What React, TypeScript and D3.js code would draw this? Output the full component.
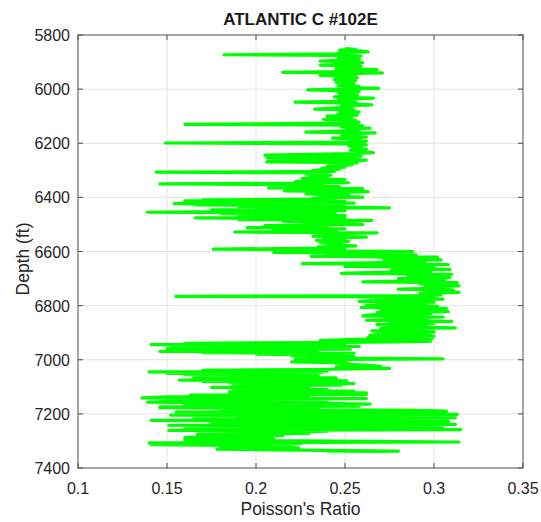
import React, { useEffect, useRef } from 'react';
import * as d3 from 'd3';

const logUpper: [number, number][] = [
  [5850, 0.25], [5853, 0.256], [5856, 0.247], [5859, 0.258], [5862, 0.263], [5864, 0.25],
  [5867, 0.246], [5870, 0.252], [5873, 0.182], [5875, 0.248], [5878, 0.259], [5881, 0.247],
  [5884, 0.255], [5887, 0.246], [5890, 0.258], [5893, 0.249], [5896, 0.236], [5899, 0.255],
  [5902, 0.26], [5905, 0.244], [5908, 0.252], [5911, 0.236], [5914, 0.259], [5917, 0.247],
  [5920, 0.254], [5924, 0.245], [5928, 0.268], [5931, 0.25], [5935, 0.244], [5938, 0.215],
  [5940, 0.271], [5943, 0.252], [5946, 0.246], [5949, 0.236], [5952, 0.256], [5955, 0.245],
  [5958, 0.257], [5962, 0.248], [5965, 0.244], [5968, 0.256], [5971, 0.249], [5975, 0.245],
  [5978, 0.255], [5982, 0.25], [5986, 0.246], [5990, 0.258], [5994, 0.252], [5997, 0.269],
  [6000, 0.247], [6003, 0.229], [6006, 0.25], [6009, 0.258], [6012, 0.246], [6016, 0.254],
  [6019, 0.247], [6022, 0.257], [6025, 0.25], [6029, 0.244], [6033, 0.266], [6036, 0.252],
  [6040, 0.246], [6044, 0.256], [6048, 0.222], [6051, 0.25], [6055, 0.258], [6058, 0.265],
  [6062, 0.248], [6066, 0.254], [6070, 0.244], [6074, 0.233], [6077, 0.255], [6081, 0.247],
  [6084, 0.258], [6088, 0.25],
];

const logShale: [number, number][] = [
  [6092, 0.246], [6096, 0.257], [6100, 0.24], [6104, 0.254], [6108, 0.247], [6112, 0.238],
  [6115, 0.256], [6118, 0.249], [6122, 0.258], [6126, 0.247], [6130, 0.16], [6133, 0.252],
  [6136, 0.26], [6140, 0.248], [6144, 0.264], [6147, 0.251], [6151, 0.258], [6155, 0.246],
  [6159, 0.228], [6162, 0.267], [6165, 0.253], [6169, 0.259], [6173, 0.248], [6177, 0.262],
  [6181, 0.243], [6184, 0.258], [6188, 0.252], [6192, 0.262], [6196, 0.255], [6199, 0.149],
  [6202, 0.256], [6206, 0.262], [6210, 0.252], [6214, 0.259], [6218, 0.254], [6222, 0.262],
  [6226, 0.253], [6230, 0.258], [6235, 0.266], [6238, 0.254], [6244, 0.205], [6247, 0.259],
  [6252, 0.206], [6255, 0.258], [6259, 0.207], [6262, 0.262], [6266, 0.25], [6269, 0.206],
  [6272, 0.257], [6276, 0.248], [6280, 0.254], [6284, 0.24], [6288, 0.25], [6292, 0.237],
  [6296, 0.247],
];

const logMiddle: [number, number][] = [
  [6300, 0.232], [6304, 0.244], [6307, 0.144], [6310, 0.236], [6314, 0.228], [6318, 0.242],
  [6322, 0.23], [6326, 0.24], [6330, 0.226], [6334, 0.25], [6338, 0.235], [6342, 0.222],
  [6346, 0.252], [6350, 0.146], [6353, 0.238], [6357, 0.23], [6361, 0.247], [6365, 0.207],
  [6368, 0.26], [6372, 0.236], [6376, 0.216], [6379, 0.263], [6383, 0.24], [6387, 0.228],
  [6391, 0.252], [6395, 0.236], [6399, 0.26], [6403, 0.232], [6406, 0.245], [6409, 0.17],
  [6411, 0.24], [6413, 0.16], [6416, 0.25], [6418, 0.175], [6421, 0.255], [6423, 0.154],
  [6426, 0.24], [6428, 0.165], [6431, 0.25], [6433, 0.19], [6436, 0.248], [6439, 0.275],
  [6441, 0.2], [6444, 0.245], [6446, 0.175], [6449, 0.25], [6452, 0.19], [6455, 0.139],
  [6457, 0.235], [6460, 0.18], [6462, 0.245], [6465, 0.19], [6467, 0.25], [6470, 0.2],
  [6473, 0.25], [6476, 0.166], [6479, 0.24], [6482, 0.19], [6485, 0.265], [6488, 0.215],
  [6492, 0.23], [6496, 0.245], [6500, 0.26], [6504, 0.205], [6508, 0.24], [6512, 0.195],
  [6516, 0.25], [6520, 0.21], [6524, 0.245], [6528, 0.188], [6531, 0.268], [6535, 0.236],
  [6539, 0.248], [6543, 0.232], [6547, 0.262], [6551, 0.238], [6555, 0.25], [6559, 0.234],
  [6563, 0.252], [6567, 0.236], [6571, 0.248], [6575, 0.24], [6579, 0.256], [6583, 0.235],
  [6587, 0.25], [6591, 0.176], [6594, 0.245], [6598, 0.238],
];

const logBulge: [number, number][] = [
  [6600, 0.288], [6603, 0.21], [6606, 0.27], [6609, 0.245], [6612, 0.29], [6615, 0.262],
  [6618, 0.231], [6621, 0.302], [6624, 0.27], [6628, 0.29], [6631, 0.304], [6634, 0.272],
  [6638, 0.295], [6642, 0.262], [6645, 0.226], [6648, 0.308], [6651, 0.278], [6655, 0.25],
  [6658, 0.3], [6662, 0.28], [6666, 0.309], [6669, 0.276], [6673, 0.298], [6677, 0.268],
  [6681, 0.248], [6684, 0.31], [6688, 0.285], [6692, 0.3], [6696, 0.309], [6700, 0.28],
  [6704, 0.306], [6708, 0.29], [6712, 0.26], [6715, 0.313], [6719, 0.292], [6723, 0.306],
  [6727, 0.314], [6731, 0.295], [6735, 0.308], [6739, 0.28], [6743, 0.311], [6747, 0.296],
  [6751, 0.314], [6755, 0.292], [6759, 0.304], [6763, 0.3], [6766, 0.155], [6768, 0.296],
  [6772, 0.285], [6776, 0.305], [6780, 0.27], [6784, 0.258], [6787, 0.3], [6791, 0.268],
  [6795, 0.296], [6799, 0.262], [6803, 0.302], [6807, 0.259], [6810, 0.307], [6814, 0.27],
  [6818, 0.294], [6822, 0.308], [6826, 0.268], [6830, 0.298], [6834, 0.265], [6838, 0.26],
  [6842, 0.305], [6846, 0.272], [6850, 0.296],
];

const logTransition: [number, number][] = [
  [6854, 0.262], [6858, 0.31], [6862, 0.275], [6866, 0.3], [6870, 0.268], [6874, 0.296],
  [6878, 0.272], [6882, 0.312], [6885, 0.27], [6889, 0.296], [6893, 0.265], [6897, 0.3],
  [6901, 0.268], [6905, 0.298], [6909, 0.264], [6913, 0.3], [6917, 0.263], [6921, 0.299],
  [6925, 0.255], [6929, 0.236], [6932, 0.298], [6936, 0.25], [6939, 0.16], [6941, 0.25],
  [6944, 0.141], [6946, 0.24], [6949, 0.152], [6951, 0.258], [6954, 0.16], [6956, 0.245],
  [6959, 0.15], [6961, 0.253], [6964, 0.152], [6966, 0.235], [6969, 0.146], [6971, 0.222],
  [6974, 0.17], [6976, 0.255], [6979, 0.2], [6982, 0.23], [6985, 0.22], [6988, 0.255],
  [6991, 0.222], [6994, 0.25], [6997, 0.305], [7000, 0.222], [7004, 0.25], [7008, 0.22],
  [7012, 0.252], [7016, 0.245], [7020, 0.262], [7024, 0.27], [7028, 0.245], [7032, 0.275],
  [7036, 0.232], [7039, 0.17], [7042, 0.24], [7045, 0.14], [7047, 0.237], [7050, 0.15],
  [7052, 0.225], [7055, 0.16], [7057, 0.235], [7060, 0.178], [7062, 0.232], [7065, 0.165],
  [7067, 0.245], [7070, 0.18], [7072, 0.245], [7075, 0.157], [7078, 0.251], [7080, 0.17],
  [7083, 0.24], [7085, 0.185], [7088, 0.255], [7091, 0.19], [7094, 0.248], [7096, 0.187],
  [7099, 0.23], [7102, 0.175], [7104, 0.216], [7107, 0.187], [7110, 0.24], [7113, 0.19],
  [7116, 0.255], [7119, 0.185], [7122, 0.262],
];

const logLower: [number, number][] = [
  [7125, 0.2], [7128, 0.262], [7131, 0.163], [7134, 0.23], [7137, 0.15], [7141, 0.136],
  [7144, 0.262], [7147, 0.17], [7150, 0.24], [7154, 0.15], [7157, 0.139], [7160, 0.225],
  [7164, 0.264], [7167, 0.16], [7171, 0.258], [7174, 0.146], [7177, 0.146], [7180, 0.235],
  [7184, 0.18], [7187, 0.29], [7190, 0.307], [7193, 0.155], [7196, 0.28], [7199, 0.2],
  [7202, 0.313], [7205, 0.152], [7208, 0.3], [7211, 0.19], [7214, 0.312], [7218, 0.165],
  [7221, 0.29], [7224, 0.141], [7227, 0.308], [7230, 0.21], [7233, 0.3], [7236, 0.175],
  [7239, 0.312], [7242, 0.151], [7245, 0.28], [7249, 0.195], [7252, 0.305], [7255, 0.16],
  [7258, 0.315], [7261, 0.151], [7264, 0.24], [7268, 0.2], [7272, 0.23], [7276, 0.167],
  [7280, 0.215], [7284, 0.175], [7288, 0.16], [7292, 0.21], [7296, 0.16], [7300, 0.225],
  [7304, 0.314], [7307, 0.14], [7310, 0.225], [7314, 0.141], [7318, 0.22], [7322, 0.18],
  [7326, 0.224], [7330, 0.178], [7334, 0.225], [7338, 0.28], [7340, 0.24],
];

const xTicks = [0.1, 0.15, 0.2, 0.25, 0.3, 0.35];
const yTicks = [5800, 6000, 6200, 6400, 6600, 6800, 7000, 7200, 7400];

const FONT = '"Liberation Sans", Arial, Helvetica, sans-serif';

const App = () => {
  const ref = useRef<SVGSVGElement | null>(null);

  useEffect(() => {
    const width = 541;
    const height = 522;
    const margin = { top: 35, right: 18, bottom: 54, left: 78 };
    const w = width - margin.left - margin.right;
    const h = height - margin.top - margin.bottom;

    const samples = [...logUpper, ...logShale, ...logMiddle, ...logBulge, ...logTransition, ...logLower];

    const svg = d3.select(ref.current);
    svg.selectAll('*').remove();

    const x = d3.scaleLinear().domain([0.1, 0.35]).range([0, w]);
    const y = d3.scaleLinear().domain([5800, 7400]).range([0, h]);

    const g = svg.append('g').attr('transform', `translate(${margin.left},${margin.top})`);

    // grid
    g.selectAll('.gx')
      .data(xTicks.slice(1, -1))
      .enter()
      .append('line')
      .attr('x1', (d) => x(d))
      .attr('x2', (d) => x(d))
      .attr('y1', 0)
      .attr('y2', h)
      .attr('stroke', '#e3e3e3')
      .attr('stroke-width', 1);
    g.selectAll('.gy')
      .data(yTicks.slice(1, -1))
      .enter()
      .append('line')
      .attr('x1', 0)
      .attr('x2', w)
      .attr('y1', (d) => y(d))
      .attr('y2', (d) => y(d))
      .attr('stroke', '#e3e3e3')
      .attr('stroke-width', 1);

    // log curve
    const line = d3
      .line<[number, number]>()
      .x((d) => x(d[1]))
      .y((d) => y(d[0]));
    g.append('path')
      .datum(samples)
      .attr('d', line)
      .attr('fill', 'none')
      .attr('stroke', '#00ff00')
      .attr('stroke-width', 3.2)
      .attr('stroke-linejoin', 'round');

    // box + inward ticks
    const axisColor = '#4d4d4d';
    g.append('rect')
      .attr('width', w)
      .attr('height', h)
      .attr('fill', 'none')
      .attr('stroke', axisColor)
      .attr('stroke-width', 1);

    const tl = 5;
    xTicks.forEach((t) => {
      g.append('line').attr('x1', x(t)).attr('x2', x(t)).attr('y1', h).attr('y2', h - tl).attr('stroke', axisColor);
      g.append('line').attr('x1', x(t)).attr('x2', x(t)).attr('y1', 0).attr('y2', tl).attr('stroke', axisColor);
    });
    yTicks.forEach((t) => {
      g.append('line').attr('x1', 0).attr('x2', tl).attr('y1', y(t)).attr('y2', y(t)).attr('stroke', axisColor);
      g.append('line').attr('x1', w).attr('x2', w - tl).attr('y1', y(t)).attr('y2', y(t)).attr('stroke', axisColor);
    });

    // tick labels
    g.selectAll('.xl')
      .data(xTicks)
      .enter()
      .append('text')
      .attr('x', (d) => x(d))
      .attr('y', h + 26)
      .attr('text-anchor', 'middle')
      .attr('font-family', FONT)
      .attr('font-size', 16)
      .attr('fill', '#262626')
      .text((d) => String(d));
    g.selectAll('.yl')
      .data(yTicks)
      .enter()
      .append('text')
      .attr('x', -8)
      .attr('y', (d) => y(d) + 6)
      .attr('text-anchor', 'end')
      .attr('font-family', FONT)
      .attr('font-size', 16)
      .attr('fill', '#262626')
      .text((d) => String(d));

    // labels
    svg.append('text')
      .attr('x', margin.left + w / 2)
      .attr('y', 515)
      .attr('text-anchor', 'middle')
      .attr('font-family', FONT)
      .attr('font-size', 17.5)
      .attr('fill', '#262626')
      .text("Poisson's Ratio");
    svg.append('text')
      .attr('transform', `translate(29,259) rotate(-90)`)
      .attr('text-anchor', 'middle')
      .attr('font-family', FONT)
      .attr('font-size', 17.5)
      .attr('fill', '#262626')
      .text('Depth (ft)');
    svg.append('text')
      .attr('x', margin.left + w / 2)
      .attr('y', 25)
      .attr('text-anchor', 'middle')
      .attr('font-family', FONT)
      .attr('font-size', 17)
      .attr('font-weight', 'bold')
      .attr('fill', '#1a1a1a')
      .text('ATLANTIC C #102E');
  }, []);

  return (
    <svg
      ref={ref}
      width={541}
      height={522}
      style={{ position: 'absolute', left: 0, top: 0, background: '#fff' }}
    />
  );
};

export default App;
